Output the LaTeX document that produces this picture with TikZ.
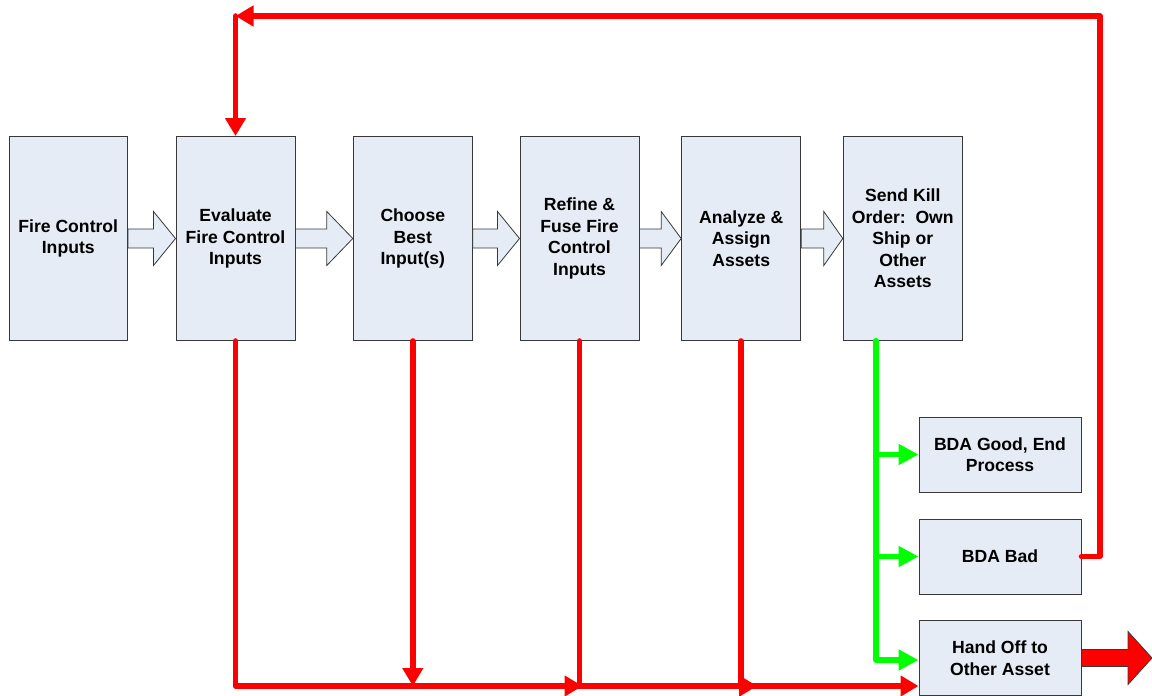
\documentclass[tikz,border=0pt]{standalone}
\usepackage{fontspec}
\setmainfont{Liberation Sans}
\usetikzlibrary{arrows.meta,calc}
\definecolor{boxfill}{HTML}{E6ECF6}
\definecolor{boxline}{HTML}{383838}
\definecolor{pred}{HTML}{FF0000}
\definecolor{pgreen}{HTML}{00FF00}
\tikzset{
  procbox/.style={draw=boxline, fill=boxfill, line width=1pt, inner sep=0pt, align=center,
    font=\fontsize{17.6}{21.5}\selectfont\bfseries},
  tallbox/.style={minimum width=119pt, minimum height=204pt},
  shortbox/.style={minimum width=162pt, minimum height=75pt},
  blockarrow/.style={draw=boxline, fill=boxfill, line width=0.8pt, line join=miter},
  redline/.style={draw=pred, line width=5.6pt, line join=round, line cap=round},
  greenline/.style={draw=pgreen, line width=5.6pt, line join=round, line cap=round},
  redtip/.style={-{Triangle[length=18pt,width=20pt]}},
  greentip/.style={-{Triangle[length=20pt,width=20pt]}},
}
\newcommand\blkarrow[3]{%
  \path[blockarrow] let \p1=(#1.east), \p2=(#2.west) in
    (\x1,\y1+9.5pt) -- (\x2-#3,\y1+9.5pt) -- (\x2-#3,\y1+27pt) -- (\x2,\y1)
    -- (\x2-#3,\y1-27pt) -- (\x2-#3,\y1-9.5pt) -- (\x1,\y1-9.5pt) -- cycle;}
\begin{document}
\begin{tikzpicture}[x=1pt,y=-1pt]
\useasboundingbox (0,0) rectangle (1152,696);

% main process boxes
\node[procbox,tallbox,minimum width=118.5pt] (b1) at (68.25,238.5) {Fire Control\\Inputs};
\node[procbox,tallbox] (b2) at (235.5,238.5) {Evaluate\\Fire Control\\Inputs};
\node[procbox,tallbox] (b3) at (412.8,238.5) {Choose\\Best\\Input(s)};
\node[procbox,tallbox] (b4) at (579.5,238.5) {Refine \&\\Fuse Fire\\Control\\Inputs};
\node[procbox,tallbox] (b5) at (741.2,238.5) {Analyze \&\\Assign\\Assets};
\node[procbox,tallbox] (b6) at (902.8,238.5) {Send Kill\\Order:\ \ Own\\Ship or\\Other\\Assets};

% outcome boxes
\node[procbox,shortbox] (g1) at (1000,454.5) {BDA Good, End\\Process};
\node[procbox,shortbox] (g2) at (1000,556.5) {BDA Bad};
\node[procbox,shortbox] (g3) at (1000,658) {Hand Off to\\Other Asset};

% block arrows
\blkarrow{b1}{b2}{22pt}
\blkarrow{b2}{b3}{26pt}
\blkarrow{b3}{b4}{22pt}
\blkarrow{b4}{b5}{20pt}
\blkarrow{b5}{b6}{19pt}

% BDA bad loop back
\coordinate (tr) at (1100,16);
\coordinate (tl) at (b2.north |- tr);
\draw[redline,redtip] (g2.east) -| (tr) -- (tl);
\draw[redline,redtip] (tl) -- (b2.north);

% bottom red connectors
\coordinate (hin) at ($(g3.south west)+(0,-10)$);
\draw[redline] (b4.south) -- (b4.south |- hin);
\draw[redline] (b5.south) -- (b5.south |- hin);
\draw[redline,redtip] (b2.south) |- (hin);
\draw[redline,redtip] (b3.south) -- (b3.south |- hin);
\draw[redline,redtip] ($(b4.south |- hin)+(-20,0)$) -- ($(b4.south |- hin)+(3,0)$);
\draw[redline,redtip] ($(b5.south |- hin)+(-5,0)$) -- ($(b5.south |- hin)+(16,0)$);

% green connectors
\coordinate (gs) at ($(b6.south west)+(33,0)$);
\draw[greenline,greentip] (gs) |- (g1.west);
\draw[greenline,greentip] (gs) |- (g2.west);
\draw[greenline,greentip] (gs) |- ($(g3.west)+(0,2)$);

% hand-off block arrow
\path[draw=boxline, fill=pred, line width=0.8pt, line join=miter] let \p1=(g3.east) in
  (\x1,\y1+8.5pt) -- (1128pt,\y1+8.5pt) -- (1128pt,\y1+26.5pt) -- (1152pt,\y1)
  -- (1128pt,\y1-26.5pt) -- (1128pt,\y1-8.5pt) -- (\x1,\y1-8.5pt) -- cycle;
\end{tikzpicture}
\end{document}
